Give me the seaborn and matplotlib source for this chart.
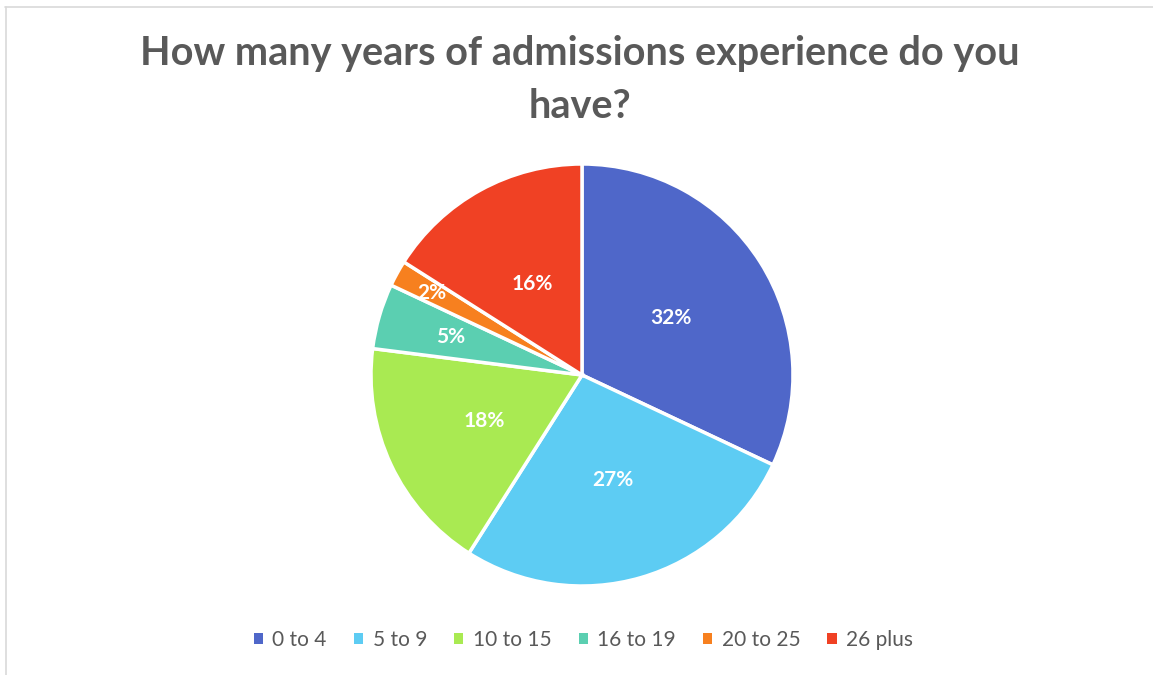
import matplotlib
matplotlib.use("Agg")
import numpy as np
import matplotlib.pyplot as plt
import seaborn as sns
from matplotlib.lines import Line2D
from matplotlib.patches import Patch

# Data
categories = ["0 to 4", "5 to 9", "10 to 15", "16 to 19", "20 to 25", "26 plus"]
shares = [32, 27, 18, 5, 2, 16]
colors = ["#4F67C9", "#5DCCF3", "#A9EA52", "#5BCFB1", "#F7801F", "#F04124"]
# how far out each percent label sits (fraction of radius), Excel "best fit" look
label_dist = [0.5, 0.52, 0.51, 0.65, 0.81, 0.49]

sns.set_theme(style="white")
plt.rcParams["font.family"] = ["Lato", "DejaVu Sans"]

W, H = 1153, 675
fig = plt.figure(figsize=(W / 100, H / 100), dpi=100)

# pie axes placed so the circle sits at the same spot as the reference
cx, cy, r = 582, 375, 211
ax = fig.add_axes([(cx - r) / W, (H - cy - r) / H, 2 * r / W, 2 * r / H])
palette = sns.color_palette(colors)
wedges, texts, autotexts = ax.pie(
    shares, colors=palette, startangle=90, counterclock=False,
    autopct="%1.0f%%", pctdistance=0.5, radius=1,
    wedgeprops=dict(edgecolor="white", linewidth=2.5),
    textprops=dict(color="white", fontsize=15, fontweight="bold"))
for w, t, d in zip(wedges, autotexts, label_dist):
    ang = np.deg2rad((w.theta1 + w.theta2) / 2)
    t.set_position((d * np.cos(ang), d * np.sin(ang)))
ax.set_xlim(-1, 1)
ax.set_ylim(-1, 1)
ax.set_aspect("equal")
ax.axis("off")

# title
fig.text(0.503, (H - 80) / H, "How many years of admissions experience do you\nhave?",
         ha="center", va="center", fontsize=28.5, fontweight="bold", color="#595959",
         linespacing=1.5)

# legend
handles = [Patch(facecolor=c, edgecolor="none") for c in colors]
fig.legend(handles, categories, loc="center", bbox_to_anchor=(0.506, (H - 640) / H),
           ncol=6, frameon=False, fontsize=15, labelcolor="#595959",
           handlelength=0.45, handleheight=0.45, handletextpad=0.45, columnspacing=1.3)

# frame lines (top and left only, like the screenshot)
fig.add_artist(Line2D([5 / W, 1], [(H - 6.5) / H] * 2, color="#D9D9D9", lw=1.2))
fig.add_artist(Line2D([5.5 / W] * 2, [0, (H - 6.5) / H], color="#D9D9D9", lw=1.2))

fig.savefig("out.png", dpi=100, facecolor="white")
